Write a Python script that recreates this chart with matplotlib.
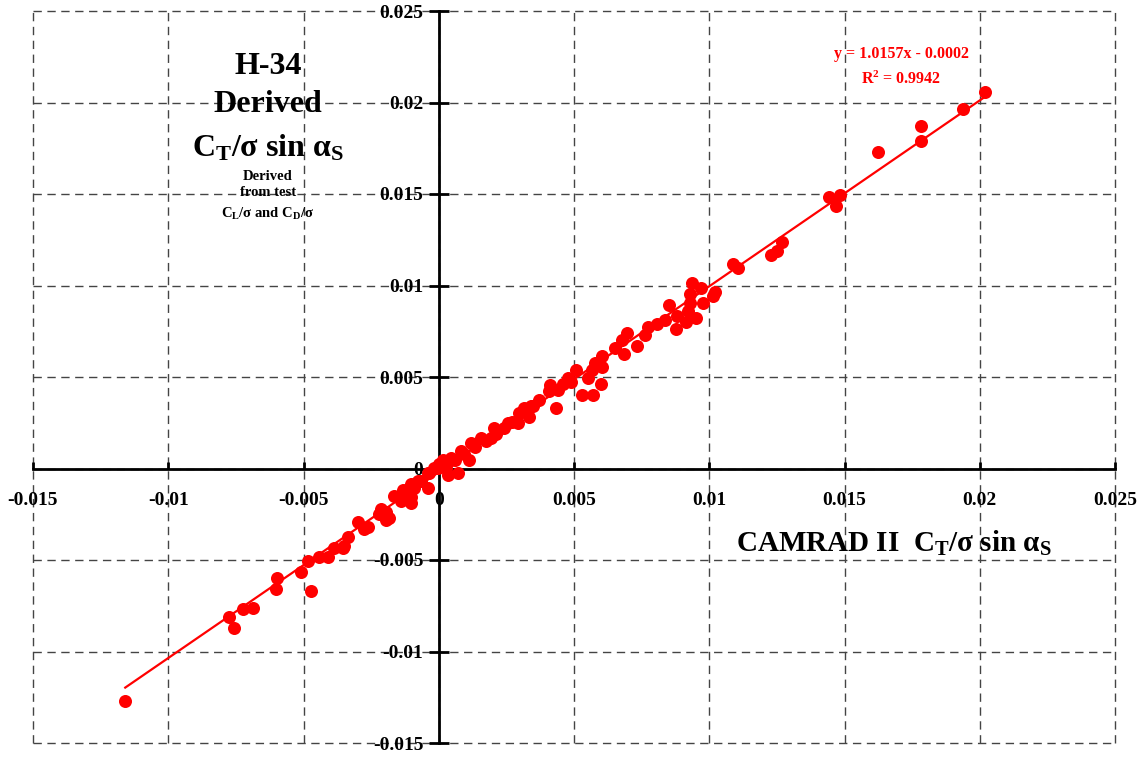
import numpy as np
import matplotlib
matplotlib.use('Agg')
import matplotlib.pyplot as plt

# フォント設定 (Times New Roman 相当)
plt.rcParams['font.family'] = ['Liberation Serif', 'DejaVu Serif']
plt.rcParams['font.weight'] = 'bold'
plt.rcParams['mathtext.fontset'] = 'custom'
plt.rcParams['mathtext.rm'] = 'Liberation Serif:bold'
plt.rcParams['mathtext.it'] = 'Liberation Serif:bold'
plt.rcParams['mathtext.bf'] = 'Liberation Serif:bold'

# CAMRAD II CT/sigma sin alphaS
camrad = [-0.01159, -0.00775, -0.00756, -0.00723, -0.00686, -0.00598, -0.00601, -0.00509,
          -0.00483, -0.00472, -0.00443, -0.00410, -0.00387, -0.00354, -0.00336, -0.00351,
          -0.00299, -0.00277, -0.00262, -0.00221, -0.00214, -0.00196, -0.00185, -0.00196,
          -0.00166, -0.00140, -0.00133, -0.00114, -0.00103, -0.00103, -0.00103, -0.00092,
          -0.00077, -0.00066, -0.00041, -0.00041, -0.00037, -0.00018, -0.00004, 0.00000,
          0.00015, 0.00026, 0.00033, 0.00044, 0.00044, 0.00070, 0.00081, 0.00111,
          0.00118, 0.00155, 0.00173, 0.00192, 0.00203, 0.00240, 0.00255, 0.00292,
          0.00295, 0.00314, 0.00332, 0.00340, 0.00369, 0.00406, 0.00410, 0.00432,
          0.00461, 0.00476, 0.00506, 0.00550, 0.00531, 0.00572, 0.00598, 0.00568,
          0.00579, 0.00605, 0.00605, 0.00653, 0.00679, 0.00686, 0.00697, 0.00734,
          0.00764, 0.00775, 0.00808, 0.00838, 0.00852, 0.00878, 0.00882, 0.00915,
          0.00922, 0.00952, 0.00930, 0.00930, 0.00937, 0.00970, 0.00978, 0.01015,
          0.01022, 0.01089, 0.01107, 0.01229, 0.01251, 0.01269, 0.01443, 0.01483,
          0.01469, 0.01624, 0.01782, 0.01782, 0.01937, 0.02018,
          0.00060, 0.00095, 0.00135, 0.00210, 0.00270, 0.00350, 0.00440, 0.00490]
# H-34 derived CT/sigma sin alphaS
derived = [-0.01268, -0.00814, -0.00874, -0.00770, -0.00760, -0.00601, -0.00661, -0.00563,
           -0.00508, -0.00667, -0.00486, -0.00486, -0.00432, -0.00437, -0.00377, -0.00421,
           -0.00295, -0.00328, -0.00322, -0.00246, -0.00219, -0.00240, -0.00273, -0.00284,
           -0.00148, -0.00175, -0.00120, -0.00120, -0.00158, -0.00191, -0.00082, -0.00104,
           -0.00066, -0.00066, -0.00104, -0.00027, -0.00027, 0.00005, 0.00005, 0.00027,
           0.00044, 0.00005, -0.00038, 0.00060, 0.00044, -0.00027, 0.00098, 0.00044,
           0.00137, 0.00169, 0.00153, 0.00169, 0.00219, 0.00224, 0.00251, 0.00251,
           0.00306, 0.00333, 0.00279, 0.00344, 0.00372, 0.00426, 0.00454, 0.00333,
           0.00464, 0.00497, 0.00536, 0.00497, 0.00399, 0.00399, 0.00464, 0.00536,
           0.00574, 0.00617, 0.00552, 0.00661, 0.00700, 0.00623, 0.00743, 0.00672,
           0.00732, 0.00771, 0.00792, 0.00809, 0.00891, 0.00760, 0.00836, 0.00803,
           0.00863, 0.00820, 0.00902, 0.00956, 0.01016, 0.00989, 0.00907, 0.00945,
           0.00967, 0.01120, 0.01098, 0.01164, 0.01191, 0.01240, 0.01486, 0.01492,
           0.01432, 0.01732, 0.01792, 0.01869, 0.01962, 0.02055,
           0.00045, 0.00080, 0.00115, 0.00190, 0.00255, 0.00340, 0.00430, 0.00470]

# 近似直線 (グラフ上の式)
slope = 1.0157
intercept = -0.0002

ticks = [-0.015, -0.01, -0.005, 0, 0.005, 0.01, 0.015, 0.02, 0.025]
tick_labels = ['-0.015', '-0.01', '-0.005', '0', '0.005', '0.01', '0.015', '0.02', '0.025']

fig = plt.figure(figsize=(11.46, 7.57), dpi=100)
ax = fig.add_axes([33 / 1146, 1 - 743 / 757, 1082 / 1146, 732 / 757])

ax.scatter(camrad, derived, s=88, color='#FF0000', linewidths=0, zorder=3)
xl = np.array([min(camrad), max(camrad)])
ax.plot(xl, slope * xl + intercept, color='#FF0000', linewidth=1.6, zorder=4)

ax.set_xlim(-0.015, 0.025)
ax.set_ylim(-0.015, 0.025)
ax.set_xticks(ticks)
ax.set_yticks(ticks)
ax.set_xticklabels(tick_labels)
ax.set_yticklabels(tick_labels)

# 軸を原点に移動
ax.spines['left'].set_position(('data', 0))
ax.spines['bottom'].set_position(('data', 0))
ax.spines['left'].set_linewidth(2)
ax.spines['bottom'].set_linewidth(2)
ax.spines['left'].set_zorder(2)
ax.spines['bottom'].set_zorder(2)
ax.spines['top'].set_visible(False)
ax.spines['right'].set_visible(False)

ax.tick_params(axis='x', direction='in', length=5, width=2, pad=17, labelsize=14)
ax.tick_params(axis='y', direction='inout', length=14, width=2, pad=4, labelsize=14)
for lab in ax.get_xticklabels() + ax.get_yticklabels():
    lab.set_fontweight('bold')

ax.grid(True, color='#444444', linestyle=(0, (6, 4)), linewidth=1)
ax.set_axisbelow(True)
for line in ax.get_xgridlines() + ax.get_ygridlines():
    line.set_clip_on(False)

# 文字
fig.text(268 / 1146, 1 - 66 / 757, 'H-34', ha='center', va='center', fontsize=23, fontweight='bold')
fig.text(268 / 1146, 1 - 105 / 757, 'Derived', ha='center', va='center', fontsize=23, fontweight='bold')
fig.text(268 / 1146, 1 - 148 / 757, r'C$_\mathrm{T}$/σ sin α$_\mathrm{S}$', ha='center', va='center',
         fontsize=23, fontweight='bold')
fig.text(268 / 1146, 1 - 176 / 757, 'Derived', ha='center', va='center', fontsize=10.5, fontweight='bold')
fig.text(268 / 1146, 1 - 193 / 757, 'from test', ha='center', va='center', fontsize=10.5, fontweight='bold')
fig.text(268 / 1146, 1 - 214 / 757, r'C$_\mathrm{L}$/σ and C$_\mathrm{D}$/σ', ha='center', va='center',
         fontsize=10.5, fontweight='bold')

fig.text(901 / 1146, 1 - 54 / 757, 'y = 1.0157x - 0.0002', ha='center', va='center', fontsize=11.5,
         fontweight='bold', color='#FF0000')
fig.text(901 / 1146, 1 - 79 / 757, r'R$^\mathrm{2}$ = 0.9942', ha='center', va='center', fontsize=11.5,
         fontweight='bold', color='#FF0000')

fig.text(894 / 1146, 1 - 543 / 757, r'CAMRAD II  C$_\mathrm{T}$/σ sin α$_\mathrm{S}$', ha='center', va='center',
         fontsize=21, fontweight='bold')

plt.savefig('out.png', dpi=100)
